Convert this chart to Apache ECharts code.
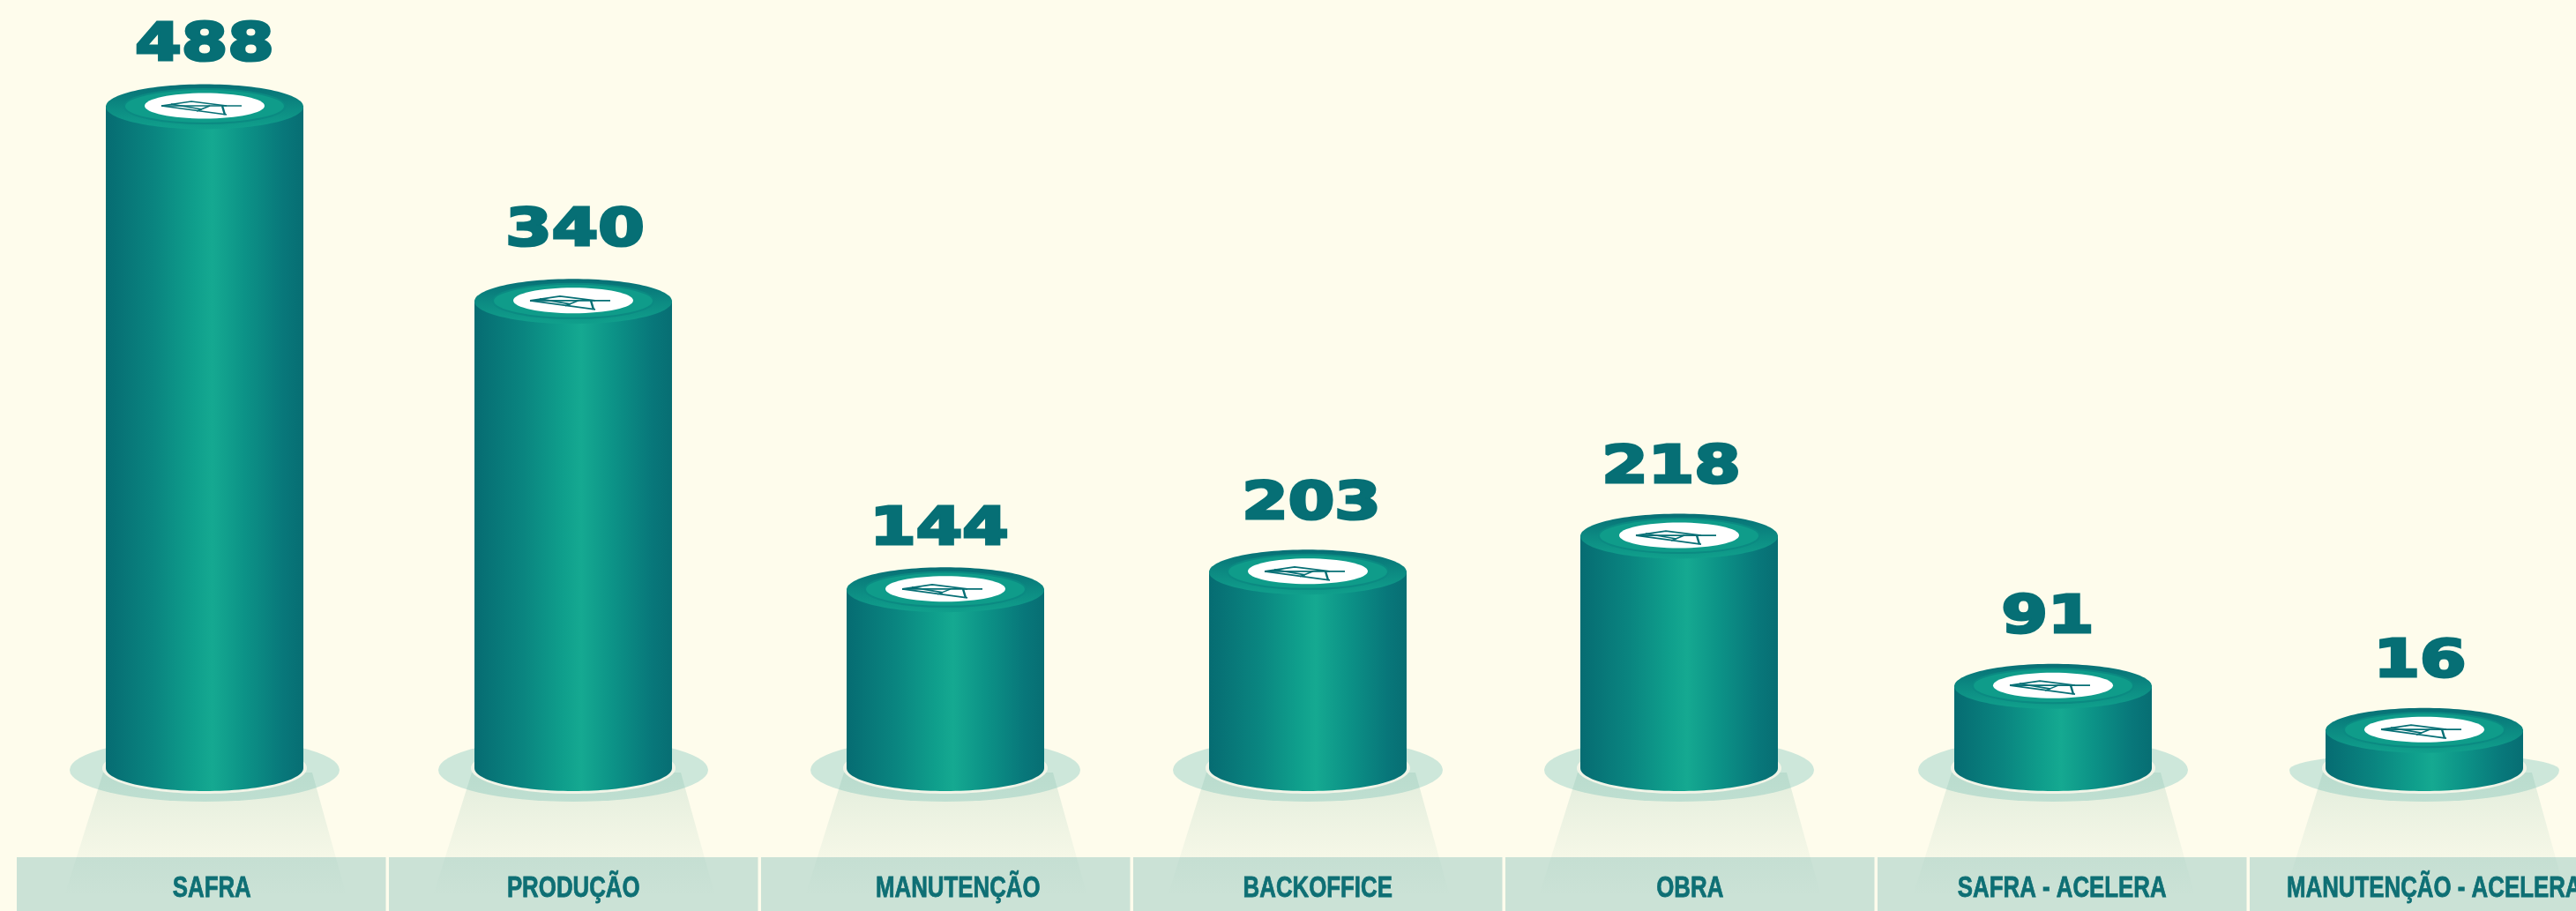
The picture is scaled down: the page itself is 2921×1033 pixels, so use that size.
<!DOCTYPE html>
<html>
<head>
<meta charset="utf-8">
<title>Efetivo por area</title>
<script src="https://cdn.jsdelivr.net/npm/echarts@6/dist/echarts.min.js"></script>
<style>
	html, body { margin: 0; padding: 0; background: #fefcec; }
	#chart { width: 2921px; height: 1033px; }
</style>
</head>
<body>
<div id="chart"></div>
<script>
	var categories = [ 'SAFRA', 'PRODUÇÃO', 'MANUTENÇÃO', 'BACKOFFICE', 'OBRA', 'SAFRA - ACELERA', 'MANUTENÇÃO - ACELERA' ];
	// the number printed above each cylinder
	var printedValues = [ 488, 340, 144, 203, 218, 91, 16 ];
	// the height each cylinder is drawn at; in the picture these do not follow the printed numbers
	var drawnLevels = [ 488, 344.5, 132, 145, 171.5, 61, 28.5 ];
	var stripLevels = [ 1, 1, 1, 1, 1, 1, 1 ];

	// small per-column corrections, the original artwork is hand placed
	var barNudge = [ 0, -1.5, 1, -7.5, -6, -1.5, 0 ];
	var valueNudgeX = [ 0, 2, -7, 4, -9, -6, -5 ];
	var valueGap = [ 71, 82, 70, 79, 79.5, 79, 79 ];
	var stripTextNudge = [ 12, 0, 14, 0, 0, 0, 0 ];
	var shadowTopRy = [ 36, 36, 36, 36, 36, 36, 19 ];

	var textColor = '#066f75';

	function sideGradient() {
		return new echarts.graphic.LinearGradient( 0, 0, 1, 0, [
			{ offset: 0, color: '#066c72' },
			{ offset: 0.25, color: '#0a8580' },
			{ offset: 0.45, color: '#0f9f8c' },
			{ offset: 0.54, color: '#15a991' },
			{ offset: 0.7, color: '#0c9387' },
			{ offset: 0.9, color: '#08777a' },
			{ offset: 1, color: '#076e73' }
		] );
	}

	function renderCylinder( params, api ) {
		var i = api.value( 0 );
		var x = api.coord( [ i, 0 ] )[ 0 ] + barNudge[ i ];
		var base = api.coord( [ i, 0 ] )[ 1 ];
		var top = api.coord( [ i, api.value( 1 ) ] )[ 1 ];
		var r = 112;
		var sy = base + 2;

		var shadow = 'M' + ( x - 153 ) + ',' + sy +
			'A153,36 0 0 0 ' + ( x + 153 ) + ',' + sy +
			'A153,' + shadowTopRy[ i ] + ' 0 0 0 ' + ( x - 153 ) + ',' + sy + 'Z';

		var logo = [
			[ [ -49, 0 ], [ 42, 0 ] ],
			[ [ -49, 0 ], [ -15, -5 ], [ 25, 0 ] ],
			[ [ -49, 0 ], [ 25, 10 ] ],
			[ [ -38, -2 ], [ -3, 4 ] ],
			[ [ -9, 6 ], [ 6, 0 ] ]
		].map( function( line ) {
			return {
				type: 'polyline',
				shape: { points: line.map( function( p ) { return [ x + p[ 0 ], top + p[ 1 ] ]; } ) },
				style: { stroke: textColor, lineWidth: 1.6, fill: null }
			};
		} );

		var children = [
			{ type: 'path', shape: { pathData: shadow }, style: { fill: '#cde7da' } },
			{
				type: 'polygon',
				shape: { points: [ [ x - 115, base + 5 ], [ x + 122, base + 5 ], [ x + 161, base + 145 ], [ x - 159, base + 145 ] ] },
				style: {
					fill: new echarts.graphic.LinearGradient( 0, 0, 0, 1, [
						{ offset: 0, color: 'rgba(100,170,150,0.18)' },
						{ offset: 1, color: 'rgba(100,170,150,0)' }
					] )
				}
			},
			{ type: 'ellipse', shape: { cx: x, cy: base, rx: r + 4, ry: 29 }, style: { fill: '#f1f4e7' } },
			{ type: 'ellipse', shape: { cx: x, cy: base, rx: r, ry: 26 }, style: { fill: sideGradient() } },
			{ type: 'rect', shape: { x: x - r, y: top, width: 2 * r, height: base - top }, style: { fill: sideGradient() } },
			{
				type: 'ellipse',
				shape: { cx: x, cy: top + 1, rx: r, ry: 25.5 },
				style: {
					fill: new echarts.graphic.LinearGradient( 0, 0, 0, 1, [
						{ offset: 0, color: '#076f75' },
						{ offset: 0.5, color: '#0c8a82' },
						{ offset: 1, color: '#10a08c' }
					] )
				}
			},
			{ type: 'ellipse', shape: { cx: x, cy: top + 0.5, rx: 91, ry: 19.5 }, style: { fill: '#0f9c8a', stroke: '#0b8a82', lineWidth: 2 } },
			{ type: 'ellipse', shape: { cx: x, cy: top, rx: 68, ry: 14.5 }, style: { fill: '#ffffff' } },
			{
				type: 'line',
				shape: { x1: x + 20, y1: top, x2: x + 23, y2: top + 10 },
				style: { stroke: textColor, lineWidth: 2.4 }
			},
			{
				type: 'text',
				x: x + valueNudgeX[ i ],
				y: top - valueGap[ i ] + 4,
				scaleX: 1.3,
				style: {
					text: String( api.value( 2 ) ),
					fontFamily: '"DejaVu Sans"',
					fontWeight: 'bold',
					fontSize: 58,
					fill: textColor,
					stroke: textColor,
					lineWidth: 3,
					align: 'center',
					verticalAlign: 'middle'
				}
			}
		];

		return { type: 'group', children: children.concat( logo ) };
	}

	function renderStripText( params, api ) {
		var i = api.value( 0 );
		var p = api.coord( [ i, 0.5 ] );
		return {
			type: 'text',
			x: p[ 0 ] + stripTextNudge[ i ],
			y: p[ 1 ] + 5,
			scaleX: 0.76,
			style: {
				text: categories[ i ],
				fontFamily: '"Liberation Sans"',
				fontWeight: 'bold',
				fontSize: 34,
				fill: '#0e6f74',
				stroke: '#0e6f74',
				lineWidth: 0.8,
				align: 'center',
				verticalAlign: 'middle'
			}
		};
	}

	var chart = echarts.init( document.getElementById( 'chart' ) );

	chart.setOption( {
		backgroundColor: '#fefcec',
		animation: false,
		grid: [
			{ left: 22.25, top: 0, width: 2936.5, height: 871, outerBoundsMode: 'none' },
			{ left: 17.25, top: 972, width: 2954, height: 61, outerBoundsMode: 'none' }
		],
		xAxis: [
			{ type: 'category', gridIndex: 0, data: categories, show: false },
			{ type: 'category', gridIndex: 1, data: categories, show: false }
		],
		yAxis: [
			{ type: 'value', gridIndex: 0, min: 0, max: 566, show: false },
			{ type: 'value', gridIndex: 1, min: 0, max: 1, show: false }
		],
		series: [
			{
				type: 'bar',
				xAxisIndex: 1,
				yAxisIndex: 1,
				z: 1,
				barWidth: 418.5,
				itemStyle: { color: '#cbe2d6' },
				data: stripLevels
			},
			{
				type: 'custom',
				xAxisIndex: 0,
				yAxisIndex: 0,
				z: 2,
				clip: false,
				renderItem: renderCylinder,
				encode: { x: 0, y: 1 },
				data: categories.map( function( c, i ) {
					return [ i, drawnLevels[ i ], printedValues[ i ] ];
				} )
			},
			{
				type: 'custom',
				xAxisIndex: 1,
				yAxisIndex: 1,
				z: 3,
				clip: false,
				renderItem: renderStripText,
				encode: { x: 0 },
				data: categories.map( function( c, i ) {
					return [ i ];
				} )
			}
		]
	} );

	window.addEventListener( 'resize', function() {
		chart.resize();
	} );
</script>
</body>
</html>
